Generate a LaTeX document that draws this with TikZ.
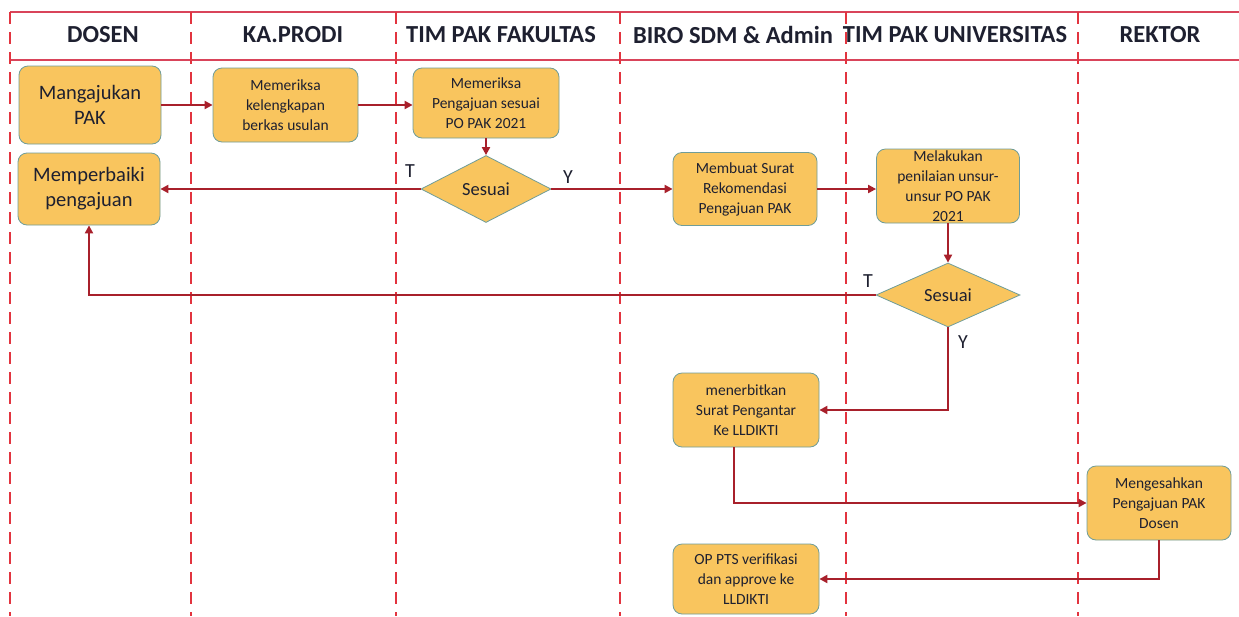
\documentclass[tikz,border=0pt]{standalone}
\usepackage{fontspec}
\setmainfont{Carlito}
\usetikzlibrary{shapes.geometric,arrows.meta}
\definecolor{boxfill}{HTML}{F9C55E}
\definecolor{boxline}{HTML}{6F9D99}
\definecolor{arrred}{HTML}{A8202B}
\definecolor{lanered}{HTML}{E2343F}
\definecolor{headred}{HTML}{D9445A}
\definecolor{txt}{HTML}{1E2030}
\tikzset{
  box/.style={draw=boxline, line width=0.8pt, fill=boxfill, rounded corners=9pt,
    align=center, text=txt, inner sep=1pt, font=\fontsize{15.5}{20}\selectfont},
  bigbox/.style={box, font=\fontsize{20.5}{25}\selectfont},
  plain/.style={align=center, text=txt, inner sep=0pt, font=\fontsize{15.5}{20}\selectfont},
  dec/.style={diamond, draw=boxline, line width=0.8pt, fill=boxfill, inner sep=0pt,
    text=txt, font=\fontsize{18.5}{20}\selectfont},
  arr/.style={draw=arrred, line width=2pt, -{Triangle[length=8pt,width=8pt]}},
  lane/.style={draw=lanered, line width=2.5pt, dash pattern=on 12pt off 8pt},
  headline/.style={draw=headred, line width=1.5pt},
  head/.style={text=txt, font=\fontsize{24.5}{27}\selectfont\bfseries},
  lbl/.style={text=txt, font=\fontsize{20}{22}\selectfont}
}
\begin{document}
\begin{tikzpicture}[x=1pt,y=-1pt]
\path[fill=white] (0,0) rectangle (1239,616);
\useasboundingbox (0,0) rectangle (1239,616);
% header lines
\draw[headline] (10,12) -- (1239,12);
\draw[headline] (10,60) -- (1239,60);
% lanes
\foreach \x in {10,191,396,620,846,1078}
  \draw[lane] (\x,12) -- (\x,616);
% headers
\node[head] (h1) at (103,35) {DOSEN};
\node[head] (h2) at (293,35) {KA.PRODI};
\node[head] (h3) at (501,35) {TIM PAK FAKULTAS};
\node[head] (h4) at (733,35) {BIRO SDM \& Admin};
\node[head] (h5) at (955,35) {TIM PAK UNIVERSITAS};
\node[head] (h6) at (1160,35) {REKTOR};
% nodes
\node[bigbox, minimum width=142pt, minimum height=78pt] (b1) at (90,105) {Mangajukan\\PAK};
\node[box, minimum width=145pt, minimum height=74pt] (b2) at (285.5,105) {Memeriksa\\kelengkapan\\berkas usulan};
\node[box, minimum width=146pt, minimum height=70pt] (b3) at (486,103) {Memeriksa\\Pengajuan sesuai\\PO PAK 2021};
\node[dec, minimum width=130pt, minimum height=67pt] (d1) at (486,189) {Sesuai};
\node[bigbox, minimum width=142pt, minimum height=72pt] (b5) at (89,189) {Memperbaiki\\pengajuan};
\node[box, minimum width=144pt, minimum height=73pt] (b6) at (745,189) {Membuat Surat\\Rekomendasi\\Pengajuan PAK};
\node[box, minimum width=143pt, minimum height=74pt] (b7) at (948,186) {};
\node[plain] (b7t) at (b7.center) {Melakukan\\penilaian unsur-\\unsur PO PAK\\2021};
\node[dec, minimum width=144pt, minimum height=64pt] (d2) at (948,295) {Sesuai};
\node[box, minimum width=146pt, minimum height=74pt] (b9) at (746,410) {menerbitkan\\Surat Pengantar\\Ke LLDIKTI};
\node[box, minimum width=144pt, minimum height=74pt] (b10) at (1159,503) {Mengesahkan\\Pengajuan PAK\\Dosen};
\node[box, minimum width=146pt, minimum height=70pt] (b11) at (746,579) {OP PTS verifikasi\\dan approve ke\\LLDIKTI};
% connectors
\draw[arr] (b1.east) -- (b2.west);
\draw[arr] (b2.east) -- (b2.east -| b3.west);
\draw[arr] (b3.south) -- (d1.north);
\draw[arr] (d1.west) -- (b5.east);
\draw[arr] (d1.east) -- (b6.west);
\draw[arr] (b6.east) -- (b6.east -| b7.west);
\draw[arr] (b7.south) -- (d2.north);
\draw[arr] (d2.west) -| (b5.south);
\draw[arr] (d2.south) |- (b9.east);
\draw[arr] ([xshift=-12pt]b9.south) |- (b10.west);
\draw[arr] (b10.south) |- (b11.east);
% labels
\node[lbl] (t1) at (410,171) {T};
\node[lbl] (y1) at (568,177) {Y};
\node[lbl] (t2) at (868,281) {T};
\node[lbl] (y2) at (963,342) {Y};
\end{tikzpicture}
\end{document}
